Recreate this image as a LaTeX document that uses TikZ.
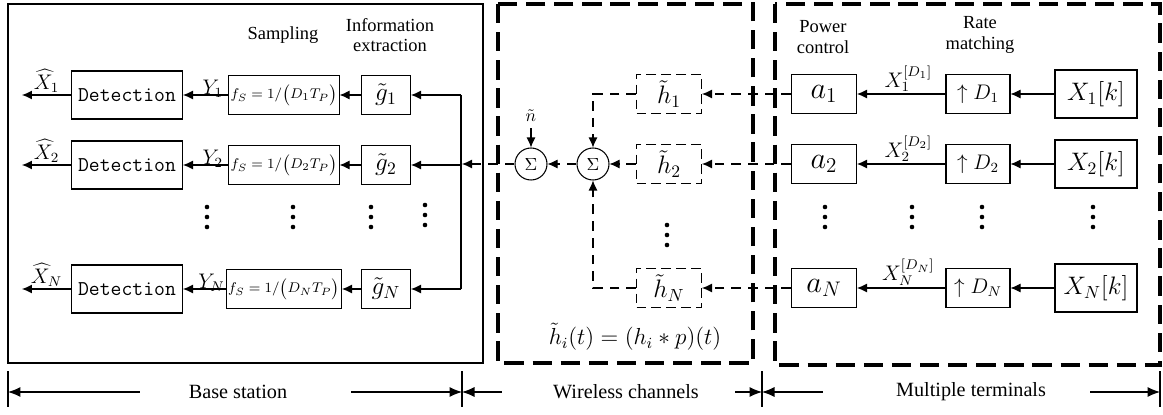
\documentclass[tikz,border=0pt]{standalone}
\usepackage{fontspec}
\setmainfont{Liberation Serif}
\usetikzlibrary{arrows.meta, positioning, calc}

\begin{document}
\begin{tikzpicture}[
    x=0.02cm, y=-0.02cm,
    blk/.style={draw, semithick, minimum height=0.78cm, inner sep=2pt, font=\large},
    detbox/.style={blk, minimum width=2.22cm, minimum height=0.96cm, font=\fontsize{12}{14}\selectfont\ttfamily},
    sampbox/.style={blk, minimum width=1.98cm, inner sep=1pt, font=\footnotesize},
    gbox/.style={blk, minimum width=0.98cm, font=\Large},
    hbox/.style={blk, minimum width=1.3cm, font=\Large, dash pattern=on 5.5pt off 3pt},
    abox/.style={blk, minimum width=1.3cm, font=\LARGE},
    upbox/.style={blk, minimum width=1.28cm, font=\large},
    xbox/.style={blk, minimum width=1.64cm, minimum height=0.96cm, font=\Large},
    sumnode/.style={circle, draw, semithick, minimum size=0.64cm, inner sep=0pt},
    sig/.style={-{Latex[length=2mm, width=1.8mm]}, semithick},
    dsig/.style={sig, dash pattern=on 5.5pt off 4pt},
    region/.style={line width=1.8pt, dash pattern=on 11pt off 5pt},
    lbl/.style={font=\fontsize{10.5}{11.5}\selectfont, align=center},
    mlbl/.style={font=\large, inner sep=1pt},
    spanlbl/.style={font=\fontsize{11.5}{13}\selectfont},
    spanarrow/.style={-{Latex[length=2.5mm, width=2mm]}, semithick},
]
\useasboundingbox (0,0) rectangle (1163,415);

% ===== Regions =====
\draw[semithick] (8,4) rectangle (483,363);
\draw[region] (498,4) rectangle (753,363);
\draw[region] (775,4) rectangle (1160,365);

% ===== Base station =====
\node[lbl] (samplbl) at (283,35) {Sampling};
\node[lbl] (infolbl) at (390,35) {Information\\extraction};

\foreach \i/\y in {1/95, 2/165, N/289} {
  \node[detbox] (det\i) at (127,\y) {Detection};
  \node[sampbox] (samp\i) at (284,\y) {$f_S=1/\big(D_\i T_P\big)$};
  \node[gbox] (g\i) at (386,\y) {$\tilde g_\i$};
  \coordinate (bus\i) at (461,\y);
  \coordinate (out\i) at (22,\y);
  \draw[sig] (bus\i) -- (g\i);
  \draw[sig] (g\i) -- (samp\i);
  \draw[sig] (samp\i) -- (det\i) node[midway, above, mlbl, xshift=4pt, yshift=-3pt] {$Y_\i$};
  \draw[sig] (det\i) -- (out\i) node[midway, above, mlbl] {$\widehat{X}_\i$};
}
\draw[semithick] (bus1) -- (busN);

% dots
\foreach \x/\y in {207/217, 293/217, 371/217, 425/215, 667/235, 825/217, 912/217, 982/217, 1093/217} {
  \foreach \d in {-10, 0, 10}
    \fill (\x, \y+\d) circle (1.3pt);
}

% ===== Wireless channels =====
\node[sumnode] (sum1) at (531,164) {$\Sigma$};
\node[sumnode] (sum2) at (593,164) {$\Sigma$};
\node (noise) at (531,116) {$\tilde n$};
\coordinate (busin) at (462,164);

\node[font=\large] (conv) at (635,337) {\scalebox{1.1}{$\tilde h_i(t)=\big(h_i * p\big)(t)$}};

% ===== Multiple terminals =====
\node[lbl] (powlbl) at (823,37) {Power\\control};
\node[lbl] (ratelbl) at (980,35) {Rate\\matching};

\foreach \i/\y in {1/94, 2/164, N/288} {
  \node[xbox] (x\i) at (1096,\y) {$X_\i[k]$};
  \node[upbox] (up\i) at (978,\y) {$\uparrow D_\i$};
  \node[abox] (a\i) at (824,\y) {$a_\i$};
  \node[hbox] (h\i) at (669,\y) {$\tilde h_\i$};
  \draw[sig] (x\i) -- (up\i);
  \draw[sig] (up\i) -- (a\i) node[midway, above, mlbl, xshift=4pt] {$X_\i^{[D_\i]}$};
  \draw[dsig] (a\i) -- (h\i);
}

% channel outputs into the adders
\draw[dsig] (h1.west) -| (sum2.north);
\draw[dsig] (h2) -- (sum2);
\draw[dsig] (hN.west) -| (sum2.south);
\draw[sig] (noise) -- (sum1);
\draw[dsig] (sum2) -- (sum1);
\draw[dsig] (sum1) -- (busin);

% ===== Span strip =====
\coordinate (tk0) at (8,392);
\coordinate (tk1) at (462,392);
\coordinate (tk2) at (762,392);
\coordinate (tk3) at (1160,392);
\foreach \t in {tk0, tk1, tk2, tk3}
  \draw[thick] ($(\t)+(0,-21)$) -- ($(\t)+(0,15)$);

\node[spanlbl] (bs) at (238,392) {Base station};
\node[spanlbl] (wc) at (626,392) {Wireless channels};
\node[spanlbl] (mt) at (971,392) {Multiple terminals};

\draw[spanarrow] ($(bs.west)+(-43,0)$) -- (tk0);
\draw[spanarrow] ($(bs.east)+(58,0)$) -- (tk1);
\draw[spanarrow] ($(wc.west)+(-45,0)$) -- (tk1);
\draw[spanarrow] ($(wc.east)+(30,0)$) -- (tk2);
\draw[spanarrow] ($(mt.west)+(-67,0)$) -- (tk2);
\draw[spanarrow] ($(mt.east)+(38,0)$) -- (tk3);

\end{tikzpicture}
\end{document}
